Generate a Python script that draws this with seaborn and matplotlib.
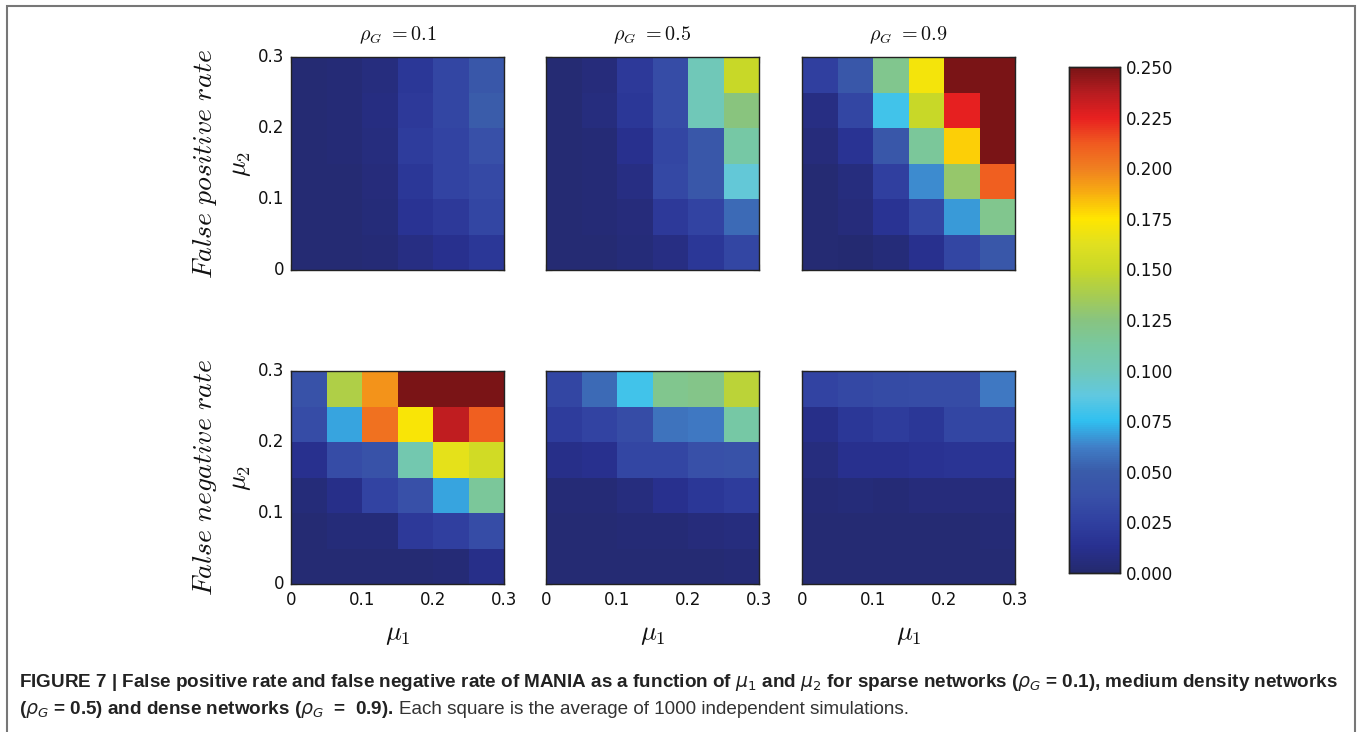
import numpy as np
import pandas as pd
import matplotlib
matplotlib.use("Agg")
import matplotlib.pyplot as plt
from matplotlib.colors import LinearSegmentedColormap
from matplotlib.patches import Rectangle
import seaborn as sns

sns.set_theme(style="white")
plt.rcParams["mathtext.fontset"] = "cm"
plt.rcParams["font.family"] = ["DejaVu Sans"]

# Bin edges of the noise parameters mu_1 (columns) and mu_2 (rows)
mu_edges = [0.0, 0.05, 0.10, 0.15, 0.20, 0.25, 0.30]
mu_centers = [0.025, 0.075, 0.125, 0.175, 0.225, 0.275]
densities = ["0.1", "0.5", "0.9"]
tick_labels = ["0", "0.1", "0.2", "0.3"]

# Rows run from mu_2 = 0.3 (top) down to mu_2 = 0 (bottom)
fp_sparse = [
    [0.002, 0.003, 0.006, 0.018, 0.030, 0.045],
    [0.002, 0.003, 0.007, 0.020, 0.030, 0.050],
    [0.002, 0.003, 0.006, 0.022, 0.028, 0.038],
    [0.002, 0.002, 0.005, 0.018, 0.028, 0.033],
    [0.002, 0.002, 0.004, 0.015, 0.020, 0.030],
    [0.002, 0.002, 0.003, 0.008, 0.012, 0.018],
]
fp_medium = [
    [0.002, 0.005, 0.020, 0.035, 0.100, 0.150],
    [0.002, 0.006, 0.018, 0.035, 0.100, 0.125],
    [0.002, 0.003, 0.012, 0.030, 0.045, 0.110],
    [0.002, 0.003, 0.008, 0.032, 0.045, 0.090],
    [0.002, 0.003, 0.005, 0.020, 0.028, 0.055],
    [0.002, 0.002, 0.004, 0.008, 0.018, 0.030],
]
fp_dense = [
    [0.025, 0.045, 0.120, 0.170, 0.250, 0.250],
    [0.008, 0.030, 0.080, 0.150, 0.225, 0.250],
    [0.005, 0.015, 0.045, 0.115, 0.180, 0.250],
    [0.002, 0.006, 0.025, 0.065, 0.130, 0.210],
    [0.002, 0.005, 0.015, 0.030, 0.068, 0.120],
    [0.002, 0.001, 0.004, 0.012, 0.030, 0.045],
]
fn_sparse = [
    [0.040, 0.140, 0.195, 0.250, 0.250, 0.250],
    [0.035, 0.070, 0.205, 0.172, 0.235, 0.210],
    [0.012, 0.035, 0.040, 0.105, 0.165, 0.155],
    [0.004, 0.010, 0.028, 0.038, 0.070, 0.115],
    [0.002, 0.004, 0.004, 0.020, 0.025, 0.035],
    [0.002, 0.002, 0.002, 0.002, 0.003, 0.010],
]
fn_medium = [
    [0.030, 0.055, 0.080, 0.120, 0.122, 0.145],
    [0.022, 0.028, 0.035, 0.058, 0.060, 0.110],
    [0.010, 0.012, 0.030, 0.030, 0.038, 0.040],
    [0.003, 0.003, 0.006, 0.012, 0.018, 0.022],
    [0.002, 0.002, 0.003, 0.003, 0.005, 0.006],
    [0.002, 0.002, 0.002, 0.002, 0.002, 0.003],
]
fn_dense = [
    [0.028, 0.032, 0.034, 0.035, 0.035, 0.060],
    [0.010, 0.018, 0.022, 0.018, 0.030, 0.030],
    [0.006, 0.012, 0.012, 0.014, 0.016, 0.016],
    [0.003, 0.004, 0.003, 0.005, 0.005, 0.005],
    [0.002, 0.002, 0.002, 0.002, 0.002, 0.003],
    [0.002, 0.002, 0.002, 0.002, 0.002, 0.002],
]

rows = [
    ("$False\\ positive\\ rate$", [fp_sparse, fp_medium, fp_dense]),
    ("$False\\ negative\\ rate$", [fn_sparse, fn_medium, fn_dense]),
]

# Soft, print-like jet palette
palette = LinearSegmentedColormap.from_list("soft_jet", [
    (0.000, "#242a6e"), (0.050, "#283090"), (0.100, "#3040a0"),
    (0.150, "#3850a8"), (0.200, "#3a5caa"), (0.250, "#4080c8"),
    (0.300, "#30c0f0"), (0.350, "#60c8e0"), (0.400, "#70c8b8"),
    (0.450, "#78c8a0"), (0.500, "#88c480"), (0.550, "#a8cc50"),
    (0.600, "#c8d828"), (0.650, "#e0e020"), (0.700, "#ffe600"),
    (0.750, "#f8b010"), (0.800, "#f08020"), (0.850, "#f05a20"),
    (0.900, "#e82020"), (0.950, "#b81c20"), (1.000, "#7a1416"),
])

W, H = 1362, 732
fig = plt.figure(figsize=(W / 100, H / 100), dpi=100)

col_left = [291, 546, 802]
row_top = [57, 371]
size = 213

cax = fig.add_axes([1069 / W, 1 - 573 / H, 51 / W, 506 / H])

for r, (rate_label, panels) in enumerate(rows):
    for c, values in enumerate(panels):
        ax = fig.add_axes([col_left[c] / W, 1 - (row_top[r] + size) / H,
                           size / W, size / H])
        grid = pd.DataFrame(values[::-1], index=mu_centers, columns=mu_centers)
        first = (r == 0 and c == 0)
        sns.heatmap(grid, ax=ax, cmap=palette, vmin=0, vmax=0.25,
                    cbar=first, cbar_ax=cax if first else None,
                    square=False, linewidths=0)
        ax.invert_yaxis()
        for side in ax.spines.values():
            side.set_visible(True)
            side.set_color("#222222")
            side.set_linewidth(1.0)
        ax.set_xticks([0, 2, 4, 6])
        ax.set_yticks([0, 2, 4, 6])
        ax.tick_params(direction="in", length=4, width=0.8, color="#111111",
                       labelsize=12, labelcolor="#111111",
                       top=True, right=True, bottom=True, left=True, pad=5)
        if r == 1:
            ax.set_xticklabels(tick_labels, rotation=0)
            ax.set_xlabel("$\\mu_1$", fontsize=19, labelpad=9, color="#111111")
        else:
            ax.set_xticklabels([])
            ax.set_xlabel("")
            ax.set_title("$\\rho_G\\ =$" + "$" + densities[c] + "$",
                         fontsize=14.5, pad=12, color="#111111")
        if c == 0:
            ax.set_yticklabels(tick_labels, rotation=0)
            ax.set_ylabel("")
            ax.text(-0.24, 0.5, "$\\mu_2$", transform=ax.transAxes,
                    rotation=90, fontsize=19, ha="center", va="center",
                    color="#111111")
            ax.text(-0.405, 0.5, rate_label, transform=ax.transAxes,
                    rotation=90, fontsize=20, ha="center", va="center",
                    color="#111111")
        else:
            ax.set_yticklabels([])
            ax.set_ylabel("")

cbar = cax
cbar.set_yticks(np.arange(0, 0.2501, 0.025))
cbar.set_yticklabels([f"{v:.3f}" for v in np.arange(0, 0.2501, 0.025)])
cbar.tick_params(direction="in", length=5, width=0.8, color="#111111",
                 labelsize=12, labelcolor="#111111", right=True, pad=4)
for side in cbar.spines.values():
    side.set_visible(True)
    side.set_color("#222222")
    side.set_linewidth(1.0)

# Outer frame
fig.patches.append(Rectangle((7 / W, -0.01), 1348 / W, 1 - 6 / H + 0.01,
                             transform=fig.transFigure, fill=False,
                             edgecolor="#777777", linewidth=1.5))

# Caption
cap_font = ["Liberation Sans", "DejaVu Sans"]
fs = 13.6
cap_kw = dict(fontsize=fs, family=cap_font, va="baseline",
              math_fontfamily="dejavusans")
fig.text(19 / W, 1 - 687 / H,
         "FIGURE 7 | False positive rate and false negative rate of MANIA as a function of "
         "$\\mu_1$ and $\\mu_2$ for sparse networks ($\\rho_G$ = 0.1), medium density networks",
         fontweight="bold", color="#222222", **cap_kw)
bold2 = fig.text(19 / W, 1 - 714 / H,
                 "($\\rho_G$ = 0.5) and dense networks ($\\rho_G$  =  0.9).",
                 fontweight="bold", color="#222222", **cap_kw)
fig.canvas.draw()
bb = bold2.get_window_extent()
fig.text((bb.x1 + 5) / W, 1 - 714 / H,
         "Each square is the average of 1000 independent simulations.",
         color="#333333", **cap_kw)

fig.savefig("out.png", dpi=100)
